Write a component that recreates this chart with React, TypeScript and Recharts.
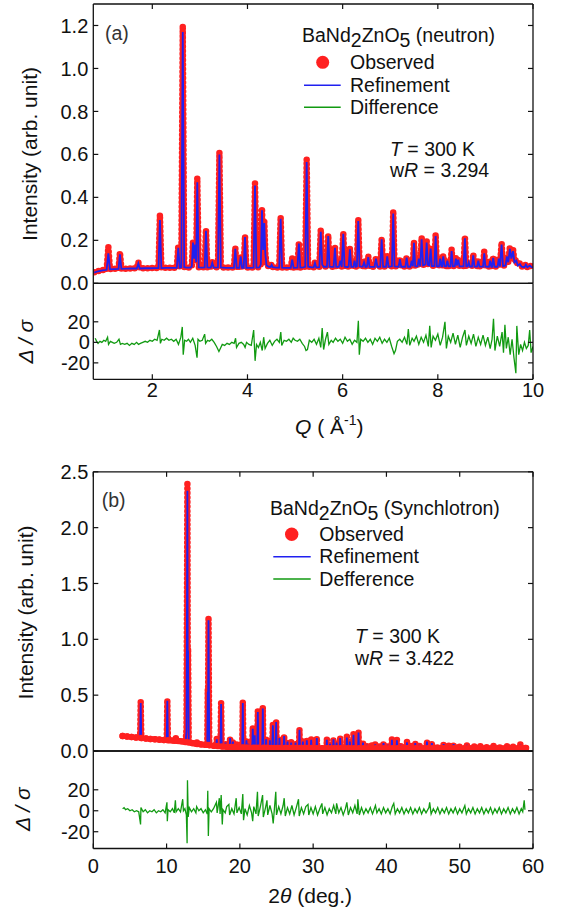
import React from "react";
import { ComposedChart, Line, XAxis, YAxis } from "recharts";

const W = 561;
const H = 919;
const PLOT_LEFT = 93.3;
const PLOT_RIGHT = 533;
const Y_AXIS_W = 60;
const FONT = '"Liberation Sans", Arial, Helvetica, sans-serif';
const INK = "#111";
const RED = "#ff2020";
const BLUE = "#2020f0";
const GREEN = "#119a11";

// (a) neutron, Q (1/A): [Q, observed, refinement]
const NEUTRON_PROFILE: [number, number, number][] = [
  [0.78, 0.052, 0.05], [0.86, 0.057, 0.056], [0.95, 0.061, 0.06], [1.04, 0.064, 0.063],
  [1.076, 0.17, 0.14], [1.11, 0.066, 0.065], [1.2, 0.067, 0.066], [1.29, 0.068, 0.067],
  [1.32, 0.144, 0.135], [1.35, 0.068, 0.067], [1.45, 0.068, 0.068], [1.56, 0.069, 0.069],
  [1.675, 0.07, 0.069], [1.706, 0.098, 0.092], [1.735, 0.07, 0.069], [1.85, 0.07, 0.07],
  [1.96, 0.071, 0.07], [2.06, 0.071, 0.071], [2.13, 0.072, 0.071], [2.16, 0.32, 0.295],
  [2.19, 0.072, 0.071], [2.29, 0.072, 0.072], [2.4, 0.072, 0.072], [2.515, 0.073, 0.072],
  [2.546, 0.175, 0.165], [2.575, 0.074, 0.073], [2.61, 0.076, 0.075], [2.64, 1.2, 1.17],
  [2.67, 0.076, 0.075], [2.72, 0.074, 0.073], [2.8, 0.074, 0.073], [2.83, 0.08, 0.078],
  [2.855, 0.195, 0.19], [2.878, 0.12, 0.115], [2.9, 0.19, 0.18], [2.922, 0.1, 0.098],
  [2.945, 0.49, 0.47], [2.975, 0.075, 0.074], [3.05, 0.074, 0.073], [3.1, 0.075, 0.074],
  [3.128, 0.25, 0.245], [3.156, 0.075, 0.074], [3.23, 0.074, 0.073], [3.26, 0.1, 0.095],
  [3.29, 0.074, 0.073], [3.38, 0.075, 0.074], [3.41, 0.61, 0.6], [3.44, 0.075, 0.074],
  [3.55, 0.073, 0.072], [3.65, 0.073, 0.072], [3.715, 0.073, 0.072], [3.744, 0.166, 0.16],
  [3.773, 0.073, 0.072], [3.828, 0.073, 0.072], [3.857, 0.13, 0.125], [3.886, 0.073, 0.072],
  [3.92, 0.073, 0.072], [3.948, 0.22, 0.215], [3.976, 0.073, 0.072], [4.05, 0.073, 0.072],
  [4.128, 0.074, 0.073], [4.158, 0.465, 0.455], [4.188, 0.074, 0.073], [4.25, 0.075, 0.074],
  [4.28, 0.09, 0.088], [4.305, 0.35, 0.34], [4.33, 0.16, 0.155], [4.353, 0.29, 0.28],
  [4.375, 0.14, 0.135], [4.4, 0.085, 0.083], [4.45, 0.078, 0.077], [4.485, 0.077, 0.076],
  [4.508, 0.09, 0.086], [4.53, 0.076, 0.075], [4.6, 0.074, 0.073], [4.667, 0.074, 0.073],
  [4.697, 0.31, 0.3], [4.727, 0.074, 0.073], [4.8, 0.073, 0.072], [4.91, 0.073, 0.072],
  [4.94, 0.116, 0.11], [4.97, 0.073, 0.072], [5.05, 0.074, 0.073], [5.08, 0.19, 0.185],
  [5.11, 0.074, 0.073], [5.17, 0.075, 0.074], [5.214, 0.078, 0.077], [5.244, 0.577, 0.565],
  [5.274, 0.078, 0.077], [5.35, 0.075, 0.074], [5.39, 0.075, 0.074], [5.418, 0.098, 0.095],
  [5.445, 0.075, 0.074], [5.51, 0.076, 0.075], [5.54, 0.25, 0.24], [5.57, 0.09, 0.088],
  [5.6, 0.078, 0.077], [5.67, 0.078, 0.077], [5.697, 0.225, 0.22], [5.725, 0.078, 0.077],
  [5.78, 0.077, 0.076], [5.81, 0.077, 0.076], [5.838, 0.17, 0.165], [5.865, 0.077, 0.076],
  [5.92, 0.077, 0.076], [5.95, 0.11, 0.105], [5.98, 0.077, 0.076], [6.013, 0.237, 0.23],
  [6.04, 0.078, 0.077], [6.1, 0.077, 0.076], [6.125, 0.078, 0.077], [6.153, 0.163, 0.158],
  [6.18, 0.077, 0.076], [6.225, 0.077, 0.076], [6.25, 0.11, 0.105], [6.275, 0.078, 0.077],
  [6.3, 0.08, 0.079], [6.328, 0.3, 0.29], [6.356, 0.08, 0.079], [6.42, 0.078, 0.077],
  [6.45, 0.1, 0.097], [6.48, 0.077, 0.076], [6.51, 0.078, 0.077], [6.538, 0.127, 0.122],
  [6.565, 0.077, 0.076], [6.67, 0.077, 0.076], [6.7, 0.12, 0.115], [6.73, 0.078, 0.077],
  [6.79, 0.078, 0.077], [6.82, 0.21, 0.205], [6.85, 0.078, 0.077], [6.91, 0.078, 0.077],
  [6.937, 0.13, 0.125], [6.965, 0.078, 0.077], [7.035, 0.08, 0.079], [7.063, 0.338, 0.325],
  [7.09, 0.08, 0.079], [7.175, 0.078, 0.077], [7.204, 0.116, 0.112], [7.23, 0.078, 0.077],
  [7.318, 0.078, 0.077], [7.345, 0.124, 0.12], [7.372, 0.078, 0.077], [7.425, 0.078, 0.077],
  [7.45, 0.11, 0.105], [7.475, 0.08, 0.079], [7.498, 0.194, 0.188], [7.525, 0.08, 0.079],
  [7.575, 0.08, 0.079], [7.6, 0.12, 0.115], [7.63, 0.082, 0.08], [7.66, 0.214, 0.205],
  [7.69, 0.085, 0.083], [7.74, 0.09, 0.088], [7.765, 0.2, 0.19], [7.79, 0.088, 0.086],
  [7.822, 0.085, 0.083], [7.849, 0.17, 0.162], [7.875, 0.082, 0.08], [7.928, 0.082, 0.08],
  [7.954, 0.228, 0.22], [7.98, 0.08, 0.079], [8.025, 0.08, 0.079], [8.05, 0.12, 0.115],
  [8.075, 0.08, 0.079], [8.09, 0.08, 0.079], [8.113, 0.13, 0.125], [8.14, 0.08, 0.079],
  [8.175, 0.08, 0.079], [8.2, 0.11, 0.105], [8.225, 0.08, 0.079], [8.265, 0.08, 0.079],
  [8.29, 0.158, 0.15], [8.315, 0.08, 0.079], [8.355, 0.08, 0.079], [8.38, 0.12, 0.115],
  [8.4, 0.085, 0.083], [8.429, 0.116, 0.11], [8.455, 0.08, 0.079], [8.54, 0.08, 0.079],
  [8.569, 0.217, 0.21], [8.597, 0.08, 0.079], [8.625, 0.08, 0.079], [8.65, 0.1, 0.097],
  [8.675, 0.079, 0.078], [8.718, 0.079, 0.078], [8.744, 0.136, 0.13], [8.77, 0.079, 0.078],
  [8.825, 0.079, 0.078], [8.85, 0.11, 0.105], [8.875, 0.079, 0.078], [8.95, 0.079, 0.078],
  [8.975, 0.147, 0.14], [9.0, 0.079, 0.078], [9.075, 0.078, 0.077], [9.1, 0.11, 0.105],
  [9.125, 0.078, 0.077], [9.14, 0.078, 0.077], [9.164, 0.124, 0.118], [9.19, 0.078, 0.077],
  [9.255, 0.078, 0.077], [9.28, 0.12, 0.115], [9.305, 0.08, 0.079], [9.34, 0.19, 0.18],
  [9.37, 0.082, 0.08], [9.425, 0.085, 0.083], [9.45, 0.13, 0.125], [9.48, 0.1, 0.098],
  [9.515, 0.17, 0.16], [9.545, 0.12, 0.115], [9.58, 0.16, 0.15], [9.61, 0.1, 0.097],
  [9.65, 0.11, 0.105], [9.68, 0.085, 0.083], [9.725, 0.093, 0.09], [9.76, 0.078, 0.077],
  [9.82, 0.076, 0.075], [9.85, 0.09, 0.087], [9.88, 0.076, 0.075], [9.935, 0.085, 0.082],
  [9.97, 0.076, 0.075], [9.995, 0.075, 0.074],
];

// (a) difference / sigma: [Q, value]
const NEUTRON_DIFF: [number, number][] = [
  [0.8, 4], [0.83, 1], [0.86, -1], [0.9, 1], [0.94, 0], [0.98, 2], [1.02, 1], [1.06, 5], [1.08, -2],
  [1.12, 1], [1.16, 0], [1.2, -1], [1.25, 0], [1.3, 3], [1.33, -2], [1.37, -1], [1.42, -2], [1.47, -1],
  [1.52, -3], [1.57, -1], [1.62, -2], [1.67, 0], [1.71, -2], [1.75, -1], [1.8, 0], [1.85, 1], [1.9, 0],
  [1.95, 2], [2.0, 1], [2.05, 3], [2.1, 2], [2.15, 12], [2.17, -1], [2.2, 3], [2.25, 2], [2.3, 4],
  [2.35, 2], [2.4, 3], [2.45, 1], [2.5, 3], [2.55, -2], [2.6, 5], [2.63, 15], [2.65, -12], [2.68, 2],
  [2.72, 1], [2.76, 3], [2.8, 0], [2.85, 4], [2.9, -3], [2.94, -15], [2.96, 3], [3.0, 1], [3.05, 2],
  [3.1, 8], [3.12, -1], [3.16, 2], [3.2, 1], [3.25, 3], [3.3, 0], [3.35, -4], [3.4, -9], [3.43, -6],
  [3.47, -2], [3.52, -3], [3.57, -1], [3.62, -2], [3.67, 0], [3.72, -1], [3.75, 4], [3.77, -5],
  [3.82, -1], [3.87, 0], [3.92, -2], [3.95, -5], [3.98, 0], [4.03, -2], [4.08, -3], [4.13, 12],
  [4.16, -18], [4.19, -2], [4.23, -5], [4.27, 0], [4.31, -8], [4.34, 5], [4.37, -6], [4.42, -1],
  [4.47, 2], [4.52, -3], [4.57, 1], [4.62, 3], [4.67, 0], [4.7, 10], [4.72, -3], [4.77, 2], [4.82, 1],
  [4.87, 3], [4.92, 0], [4.96, 4], [5.0, 2], [5.05, 1], [5.1, 3], [5.15, -1], [5.2, -4], [5.23, -8],
  [5.26, -7], [5.3, 2], [5.35, 0], [5.4, 3], [5.45, -2], [5.5, 4], [5.54, -5], [5.57, 14], [5.6, -7],
  [5.64, 3], [5.68, 10], [5.71, -2], [5.76, 2], [5.8, 0], [5.85, 4], [5.9, 1], [5.95, 3], [6.0, -1],
  [6.05, 5], [6.1, 1], [6.15, 3], [6.2, -2], [6.25, 2], [6.3, 0], [6.33, 21], [6.35, -12], [6.38, 3],
  [6.43, 1], [6.48, 4], [6.53, 0], [6.58, 3], [6.63, -2], [6.68, 4], [6.73, 1], [6.78, 5], [6.83, -1],
  [6.88, 3], [6.93, 0], [6.98, 4], [7.03, -4], [7.08, -11], [7.11, -8], [7.15, 1], [7.2, 3], [7.25, 0],
  [7.3, 5], [7.35, -2], [7.38, 13], [7.41, -3], [7.46, 4], [7.5, 1], [7.55, 6], [7.6, -2], [7.65, 5],
  [7.7, 0], [7.75, 7], [7.8, -4], [7.83, 16], [7.86, -5], [7.9, 6], [7.95, 2], [8.0, 8], [8.05, -3],
  [8.1, 5], [8.15, 20], [8.18, -6], [8.22, 6], [8.27, 0], [8.32, 9], [8.37, -2], [8.42, 7], [8.47, -5],
  [8.52, 5], [8.57, 12], [8.6, -3], [8.65, 6], [8.7, -1], [8.75, 8], [8.8, -4], [8.85, 5], [8.9, -2],
  [8.95, 7], [9.0, -3], [9.05, 5], [9.1, -6], [9.14, 3], [9.17, 23], [9.2, -8], [9.25, 6], [9.3, -4],
  [9.35, 10], [9.38, -10], [9.41, 17], [9.44, -6], [9.48, 5], [9.52, -12], [9.56, 3], [9.6, -15],
  [9.64, -30], [9.66, 16], [9.7, -12], [9.74, -2], [9.78, -8], [9.82, 0], [9.86, -6], [9.9, -3],
  [9.93, 12], [9.96, -10], [10.0, -4],
];

// (b) synchrotron, 2theta (deg): [2theta, observed, refinement]
const SYNC_PROFILE: [number, number, number][] = [
  [4.0, 0.134, 0.132], [5.0, 0.127, 0.125], [6.0, 0.12, 0.118], [6.39, 0.118, 0.116],
  [6.47, 0.44, 0.43], [6.55, 0.117, 0.115], [7.5, 0.11, 0.108], [8.5, 0.104, 0.102],
  [9.5, 0.1, 0.098], [10.02, 0.098, 0.096], [10.1, 0.46, 0.45], [10.18, 0.097, 0.095],
  [10.8, 0.094, 0.092], [11.18, 0.092, 0.09], [11.25, 0.118, 0.114], [11.32, 0.091, 0.089],
  [12.0, 0.086, 0.084], [12.6, 0.08, 0.078], [12.72, 0.2, 0.18], [12.84, 2.39, 2.33],
  [12.89, 0.6, 0.6], [12.93, 0.92, 0.9], [13.02, 0.076, 0.074], [13.6, 0.07, 0.068],
  [14.03, 0.064, 0.062], [14.1, 0.09, 0.086], [14.17, 0.063, 0.061], [15.0, 0.057, 0.055],
  [15.55, 0.055, 0.053], [15.62, 0.55, 0.53], [15.66, 0.4, 0.4], [15.72, 1.2, 1.17],
  [15.82, 0.053, 0.051], [16.4, 0.048, 0.046], [16.78, 0.046, 0.044], [16.85, 0.11, 0.105],
  [16.92, 0.045, 0.043], [17.36, 0.042, 0.04], [17.44, 0.43, 0.42], [17.52, 0.041, 0.039],
  [18.0, 0.038, 0.036], [18.05, 0.08, 0.075], [18.1, 0.038, 0.036], [18.6, 0.036, 0.034],
  [18.67, 0.12, 0.115], [18.74, 0.036, 0.034], [19.0, 0.035, 0.033], [19.05, 0.09, 0.085],
  [19.1, 0.035, 0.033], [19.52, 0.034, 0.032], [19.58, 0.065, 0.06], [19.64, 0.034, 0.032],
  [20.32, 0.032, 0.03], [20.4, 0.44, 0.43], [20.48, 0.032, 0.03], [20.85, 0.031, 0.029],
  [20.9, 0.1, 0.095], [20.95, 0.031, 0.029], [21.12, 0.031, 0.029], [21.17, 0.07, 0.065],
  [21.22, 0.031, 0.029], [21.68, 0.03, 0.028], [21.76, 0.21, 0.2], [21.84, 0.03, 0.028],
  [21.98, 0.03, 0.028], [22.03, 0.15, 0.14], [22.08, 0.029, 0.027], [22.37, 0.029, 0.027],
  [22.45, 0.36, 0.35], [22.53, 0.029, 0.027], [23.05, 0.028, 0.026], [23.13, 0.39, 0.38],
  [23.21, 0.028, 0.026], [23.53, 0.028, 0.026], [23.58, 0.11, 0.105], [23.63, 0.028, 0.026],
  [24.05, 0.027, 0.025], [24.1, 0.1, 0.095], [24.15, 0.027, 0.025], [24.42, 0.027, 0.025],
  [24.5, 0.24, 0.23], [24.58, 0.027, 0.025], [24.87, 0.027, 0.025], [24.95, 0.27, 0.26],
  [25.03, 0.027, 0.025], [25.35, 0.027, 0.025], [25.4, 0.12, 0.115], [25.45, 0.027, 0.025],
  [25.97, 0.026, 0.024], [26.04, 0.14, 0.135], [26.11, 0.026, 0.024], [26.45, 0.026, 0.024],
  [26.5, 0.09, 0.085], [26.55, 0.026, 0.024], [26.95, 0.026, 0.024], [27.0, 0.08, 0.075],
  [27.05, 0.026, 0.024], [27.55, 0.026, 0.024], [27.6, 0.08, 0.075], [27.65, 0.026, 0.024],
  [28.06, 0.026, 0.024], [28.13, 0.196, 0.19], [28.2, 0.026, 0.024], [28.55, 0.026, 0.024],
  [28.6, 0.09, 0.085], [28.65, 0.026, 0.024], [29.09, 0.026, 0.024], [29.14, 0.1, 0.095],
  [29.19, 0.026, 0.024], [29.68, 0.026, 0.024], [29.73, 0.107, 0.1], [29.78, 0.026, 0.024],
  [30.45, 0.025, 0.024], [30.5, 0.12, 0.115], [30.55, 0.025, 0.024], [31.82, 0.025, 0.024],
  [31.87, 0.107, 0.1], [31.92, 0.025, 0.024], [32.25, 0.025, 0.024], [32.3, 0.07, 0.065],
  [32.35, 0.025, 0.024], [32.72, 0.025, 0.024], [32.77, 0.11, 0.105], [32.82, 0.025, 0.024],
  [33.15, 0.025, 0.024], [33.2, 0.08, 0.075], [33.25, 0.025, 0.024], [33.64, 0.025, 0.024],
  [33.69, 0.12, 0.115], [33.74, 0.025, 0.024], [34.55, 0.025, 0.024], [34.6, 0.128, 0.12],
  [34.65, 0.025, 0.024], [34.95, 0.025, 0.024], [35.0, 0.09, 0.085], [35.05, 0.025, 0.024],
  [35.45, 0.025, 0.024], [35.5, 0.15, 0.145], [35.55, 0.025, 0.024], [36.13, 0.025, 0.024],
  [36.19, 0.173, 0.165], [36.25, 0.025, 0.024], [36.75, 0.025, 0.024], [36.8, 0.08, 0.075],
  [36.85, 0.025, 0.024], [37.28, 0.025, 0.024], [37.33, 0.06, 0.056], [37.38, 0.025, 0.024],
  [37.95, 0.025, 0.024], [38.0, 0.05, 0.047], [38.05, 0.025, 0.024], [38.42, 0.025, 0.024],
  [38.47, 0.065, 0.06], [38.52, 0.025, 0.024], [38.95, 0.025, 0.024], [39.0, 0.055, 0.05],
  [39.05, 0.025, 0.024], [39.55, 0.025, 0.024], [39.6, 0.077, 0.072], [39.65, 0.025, 0.024],
  [40.15, 0.025, 0.024], [40.2, 0.06, 0.055], [40.25, 0.025, 0.024], [40.7, 0.025, 0.024],
  [40.75, 0.107, 0.1], [40.8, 0.025, 0.024], [41.38, 0.025, 0.024], [41.43, 0.1, 0.095],
  [41.48, 0.025, 0.024], [41.95, 0.025, 0.024], [42.0, 0.06, 0.055], [42.05, 0.025, 0.024],
  [42.75, 0.025, 0.024], [42.8, 0.083, 0.078], [42.85, 0.025, 0.024], [43.25, 0.025, 0.024],
  [43.3, 0.055, 0.05], [43.35, 0.025, 0.024], [43.88, 0.025, 0.024], [43.93, 0.077, 0.072],
  [43.98, 0.025, 0.024], [44.45, 0.025, 0.024], [44.5, 0.06, 0.055], [44.55, 0.025, 0.024],
  [45.48, 0.025, 0.024], [45.53, 0.09, 0.085], [45.58, 0.025, 0.024], [46.15, 0.025, 0.024],
  [46.2, 0.077, 0.072], [46.25, 0.025, 0.024], [46.95, 0.025, 0.024], [47.0, 0.05, 0.046],
  [47.05, 0.025, 0.024], [47.75, 0.025, 0.024], [47.8, 0.066, 0.062], [47.85, 0.025, 0.024],
  [48.45, 0.025, 0.024], [48.5, 0.05, 0.046], [48.55, 0.025, 0.024], [49.11, 0.025, 0.024],
  [49.16, 0.066, 0.062], [49.21, 0.025, 0.024], [49.95, 0.025, 0.024], [50.0, 0.05, 0.046],
  [50.05, 0.025, 0.024], [50.95, 0.025, 0.024], [51.0, 0.06, 0.056], [51.05, 0.025, 0.024],
  [51.95, 0.025, 0.024], [52.0, 0.05, 0.046], [52.05, 0.025, 0.024], [52.75, 0.025, 0.024],
  [52.8, 0.054, 0.05], [52.85, 0.025, 0.024], [53.65, 0.025, 0.024], [53.7, 0.045, 0.042],
  [53.75, 0.025, 0.024], [54.55, 0.025, 0.024], [54.6, 0.054, 0.05], [54.65, 0.025, 0.024],
  [55.45, 0.025, 0.024], [55.5, 0.045, 0.042], [55.55, 0.025, 0.024], [56.4, 0.025, 0.024],
  [56.45, 0.05, 0.046], [56.5, 0.025, 0.024], [57.25, 0.025, 0.024], [57.3, 0.045, 0.042],
  [57.35, 0.025, 0.024], [58.22, 0.026, 0.025], [58.27, 0.06, 0.056], [58.32, 0.026, 0.025],
  [59.2, 0.026, 0.025],
];

// (b) difference / sigma: [2theta, value]
const SYNC_DIFF: [number, number][] = [
  [4.0, 2], [4.2, 3], [4.4, 1], [4.7, 2], [5.0, 0], [5.3, 1], [5.6, -1], [5.9, 0], [6.2, -1], [6.45, -13],
  [6.5, 3], [6.8, -1], [7.1, 1], [7.4, -2], [7.7, 0], [8.0, -1], [8.3, 1], [8.6, -2], [8.9, 0], [9.2, -1],
  [9.5, 1], [9.8, -2], [10.05, 8], [10.1, -10], [10.2, 1], [10.5, -1], [10.8, 2], [11.05, -2], [11.2, 10],
  [11.3, -1], [11.6, 2], [11.9, -1], [12.2, 11], [12.3, 0], [12.5, 2], [12.7, -4], [12.8, -31], [12.85, 29],
  [12.95, -6], [13.1, 3], [13.4, -1], [13.7, 2], [14.0, -2], [14.1, 4], [14.4, 0], [14.7, 2], [15.0, -2],
  [15.3, 1], [15.55, -3], [15.62, 19], [15.7, -24], [15.8, 2], [16.1, -1], [16.4, 2], [16.8, 8], [16.9, -2],
  [17.2, 12], [17.3, -3], [17.45, 15], [17.6, -13], [17.7, 1], [18.0, -2], [18.2, 4], [18.5, 6], [18.6, -4],
  [18.9, 2], [19.2, -3], [19.5, 12], [19.6, -2], [19.9, 3], [20.2, -3], [20.4, 16], [20.5, -9], [20.7, 2],
  [21.0, -4], [21.3, 5], [21.6, -2], [21.75, -10], [21.9, 4], [22.2, -3], [22.4, 18], [22.5, -5], [22.8, 4],
  [23.1, 15], [23.2, -6], [23.5, 3], [23.7, 10], [23.8, -4], [24.1, 5], [24.4, -3], [24.55, -12], [24.9, 18],
  [25.0, -4], [25.3, 4], [25.6, -3], [25.9, 5], [26.05, 12], [26.2, -5], [26.5, 3], [26.8, -3], [27.1, 5],
  [27.4, -4], [27.7, 3], [28.0, 11], [28.1, -5], [28.4, 3], [28.7, -3], [29.0, 4], [29.3, 6], [29.4, -4],
  [29.7, 3], [30.0, -3], [30.3, 4], [30.6, -4], [30.9, 2], [31.2, 7], [31.3, -3], [31.6, 3], [31.9, -4],
  [32.2, 2], [32.5, -2], [32.8, 5], [33.1, -3], [33.2, 7], [33.5, -2], [33.8, 3], [34.1, -4], [34.4, 2],
  [34.6, 8], [34.8, -4], [35.1, 3], [35.4, -2], [35.7, 5], [36.0, -3], [36.1, 11], [36.3, -4], [36.6, 3],
  [36.9, -3], [37.2, 2], [37.5, -2], [37.8, 3], [38.1, -3], [38.5, 5], [38.7, -2], [39.0, 2], [39.3, -3],
  [39.6, 3], [39.9, -2], [40.2, 2], [40.5, -3], [40.8, 4], [41.0, 7], [41.2, -3], [41.5, 2], [41.8, -2],
  [42.1, 3], [42.4, -3], [42.7, 2], [43.0, -2], [43.3, 3], [43.6, -3], [43.9, 2], [44.2, -2], [44.5, 3],
  [44.8, -3], [45.1, 2], [45.4, -2], [45.8, 3], [45.9, 8], [46.1, -3], [46.4, 2], [46.7, -2], [47.0, 3],
  [47.3, -3], [47.6, 2], [47.9, -2], [48.2, 3], [48.5, -3], [48.8, 2], [49.1, -2], [49.4, 3], [49.7, -3],
  [50.0, 2], [50.3, -2], [50.7, 5], [50.9, -3], [51.2, 2], [51.5, -2], [51.8, 3], [52.1, -3], [52.4, 2],
  [52.7, -2], [53.0, 3], [53.3, -3], [53.6, 2], [53.9, -2], [54.2, 3], [54.5, -3], [54.8, 2], [55.1, -2],
  [55.4, 3], [55.7, -3], [56.0, 2], [56.3, -2], [56.6, 3], [56.9, -3], [57.2, 2], [57.5, -2], [57.8, 3],
  [58.1, -3], [58.4, 2], [58.6, -1], [58.8, 10], [58.9, 1],
];

const Q_TICKS = [2, 4, 6, 8, 10];
const TTH_TICKS = [0, 10, 20, 30, 40, 50, 60];
const INT_TICKS_A = [0, 0.2, 0.4, 0.6, 0.8, 1.0, 1.2];
const INT_TICKS_B = [0, 0.5, 1.0, 1.5, 2.0, 2.5];
const DIFF_TICKS = [-20, 0, 20];

type Row = { x: number; obs?: number; calc?: number; base?: number | null; d?: number };

const neutronRows: Row[] = NEUTRON_PROFILE.map(([x, obs, calc]) => ({ x, obs, calc }));
const neutronDiffRows: Row[] = NEUTRON_DIFF.map(([x, d]) => ({ x, d }));
// baseline-only copy of the observed points, so the red band sits over the blue line
const syncRows: Row[] = SYNC_PROFILE.map(([x, obs, calc], i, all) => {
  const lo = Math.min(all[i - 1]?.[1] ?? obs, all[i + 1]?.[1] ?? obs);
  return { x, obs, calc, base: obs > lo * 1.25 ? null : obs };
});
const syncDiffRows: Row[] = SYNC_DIFF.map(([x, d]) => ({ x, d }));

const NoLabel = () => <g />;
const fmt1 = (v: number) => v.toFixed(1);

type FrameProps = {
  top: number;
  height: number;
  plotTop: number;
  plotBottom: number;
  rows: Row[];
  xDomain: [number, number];
  xTicks: number[];
  yDomain: [number, number];
  yTicks: number[];
  yFormat?: (v: number) => string;
  yGap: number;
  xGap?: number;
  topTicks: boolean;
  children: React.ReactNode;
};

function Frame(p: FrameProps) {
  const axis = { stroke: INK, strokeWidth: 1.3 };
  const tickLine = { stroke: INK, strokeWidth: 1.2 };
  const labelled = p.xGap !== undefined;
  const tickFont = { fontSize: 20, fill: INK, fontFamily: FONT };
  return (
    <div style={{ position: "absolute", left: 0, top: p.top }}>
      <ComposedChart
        width={W}
        height={p.height}
        data={p.rows}
        margin={{
          top: p.plotTop - p.top - 1,
          bottom: p.top + p.height - p.plotBottom - 1,
          left: PLOT_LEFT - Y_AXIS_W,
          right: W - PLOT_RIGHT - 1,
        }}
      >
        <XAxis
          xAxisId="b"
          dataKey="x"
          type="number"
          domain={p.xDomain}
          ticks={p.xTicks}
          interval={0}
          allowDataOverflow
          height={1}
          axisLine={axis}
          tickLine={labelled ? tickLine : false}
          tickSize={-5}
          tickMargin={labelled ? 5 + (p.xGap as number) : 0}
          tick={labelled ? tickFont : NoLabel}
        />
        <XAxis
          xAxisId="t"
          orientation="top"
          dataKey="x"
          type="number"
          domain={p.xDomain}
          ticks={p.xTicks}
          interval={0}
          allowDataOverflow
          height={1}
          axisLine={axis}
          tickLine={p.topTicks ? tickLine : false}
          tickSize={-5}
          tick={NoLabel}
        />
        <YAxis
          yAxisId="l"
          type="number"
          domain={p.yDomain}
          ticks={p.yTicks}
          interval={0}
          allowDataOverflow
          width={Y_AXIS_W}
          axisLine={axis}
          tickLine={tickLine}
          tickSize={-5}
          tickMargin={5 + p.yGap}
          tickFormatter={p.yFormat}
          tick={tickFont}
        />
        <YAxis
          yAxisId="r"
          orientation="right"
          type="number"
          domain={p.yDomain}
          ticks={p.yTicks}
          interval={0}
          allowDataOverflow
          width={1}
          axisLine={axis}
          tickLine={tickLine}
          tickSize={-5}
          tick={NoLabel}
        />
        {p.children}
      </ComposedChart>
    </div>
  );
}

const obsLine = {
  xAxisId: "b",
  yAxisId: "l",
  type: "linear" as const,
  stroke: RED,
  strokeWidth: 6.5,
  strokeDasharray: "0 4.5",
  strokeLinecap: "round" as const,
  strokeLinejoin: "round" as const,
  dot: false,
  activeDot: false,
  isAnimationActive: false,
};

const calcLine = {
  xAxisId: "b",
  yAxisId: "l",
  type: "linear" as const,
  stroke: BLUE,
  strokeWidth: 1.8,
  dot: false,
  activeDot: false,
  isAnimationActive: false,
};

const diffLine = {
  xAxisId: "b",
  yAxisId: "l",
  type: "linear" as const,
  stroke: GREEN,
  strokeWidth: 1.3,
  dot: false,
  activeDot: false,
  isAnimationActive: false,
};

function Labels() {
  return (
    <svg
      width={W}
      height={H}
      style={{ position: "absolute", left: 0, top: 0, pointerEvents: "none", fontFamily: FONT }}
    >
      <g fill={INK} fontSize={19.5}>
        {/* panel (a) */}
        <text x={105} y={39.5} fill="#333">(a)</text>
        <text x={302} y={41.7}>
          BaNd<tspan dy={5}>2</tspan>
          <tspan dy={-5}>ZnO</tspan>
          <tspan dy={5}>5</tspan>
          <tspan dy={-5}> (neutron)</tspan>
        </text>
        <circle cx={322.7} cy={62.3} r={6.5} fill={RED} />
        <text x={350} y={69.3}>Observed</text>
        <line x1={304} x2={340.7} y1={85.3} y2={85.3} stroke={BLUE} strokeWidth={1.5} />
        <text x={350} y={91.7}>Refinement</text>
        <line x1={304} x2={340.7} y1={107.3} y2={107.3} stroke={GREEN} strokeWidth={1.5} />
        <text x={350} y={114.3}>Difference</text>
        <text x={390} y={156}>
          <tspan fontStyle="italic">T</tspan> = 300 K
        </text>
        <text x={390} y={177.3}>
          w<tspan fontStyle="italic">R</tspan> = 3.294
        </text>

        {/* panel (b) */}
        <text x={101.7} y={506.5} fill="#333">(b)</text>
        <text x={270} y={515}>
          BaNd<tspan dy={5}>2</tspan>
          <tspan dy={-5}>ZnO</tspan>
          <tspan dy={5}>5</tspan>
          <tspan dy={-5}> (Synchlotron)</tspan>
        </text>
        <circle cx={291.7} cy={534.3} r={6.7} fill={RED} />
        <text x={319.3} y={541}>Observed</text>
        <line x1={273.3} x2={310.7} y1={556.7} y2={556.7} stroke={BLUE} strokeWidth={1.5} />
        <text x={319.3} y={563.3}>Refinement</text>
        <line x1={273.3} x2={310.7} y1={579} y2={579} stroke={GREEN} strokeWidth={1.5} />
        <text x={319.3} y={585.7}>Defference</text>
        <text x={355} y={643.3}>
          <tspan fontStyle="italic">T</tspan> = 300 K
        </text>
        <text x={355} y={665}>
          w<tspan fontStyle="italic">R</tspan> = 3.422
        </text>
      </g>

      <g fill={INK} fontSize={21}>
        <text transform="translate(37.3,154) rotate(-90)" textAnchor="middle">
          Intensity (arb. unit)
        </text>
        <text transform="translate(33.3,341.7) rotate(-90)" textAnchor="middle" fontStyle="italic">
          Δ / σ
        </text>
        <text x={295} y={434}>
          <tspan fontStyle="italic">Q</tspan> ( Å
          <tspan dy={-9} fontSize={14}>-1</tspan>
          <tspan dy={9}>)</tspan>
        </text>

        <text transform="translate(32.9,612.5) rotate(-90)" textAnchor="middle">
          Intensity (arb. unit)
        </text>
        <text transform="translate(30,809.2) rotate(-90)" textAnchor="middle" fontStyle="italic">
          Δ / σ
        </text>
        <text x={268.3} y={903.3}>
          2<tspan fontStyle="italic">θ</tspan> (deg.)
        </text>
      </g>
    </svg>
  );
}

export default function App() {
  return (
    <div
      style={{
        position: "absolute",
        left: 0,
        top: 0,
        width: W,
        height: H,
        background: "#fff",
        fontFamily: FONT,
        overflow: "hidden",
      }}
    >
      <Frame
        top={0}
        height={300}
        plotTop={4}
        plotBottom={283.3}
        rows={neutronRows}
        xDomain={[0.76, 10]}
        xTicks={Q_TICKS}
        yDomain={[0, 1.3]}
        yTicks={INT_TICKS_A}
        yFormat={fmt1}
        yGap={5}
        topTicks
      >
        <Line {...obsLine} dataKey="obs" />
        <Line {...calcLine} dataKey="calc" />
      </Frame>
      <Frame
        top={270}
        height={170}
        plotTop={283.3}
        plotBottom={379.3}
        rows={neutronDiffRows}
        xDomain={[0.76, 10]}
        xTicks={Q_TICKS}
        yDomain={[-36, 57.5]}
        yTicks={DIFF_TICKS}
        yGap={3.5}
        xGap={3.4}
        topTicks={false}
      >
        <Line {...diffLine} dataKey="d" />
      </Frame>
      <Frame
        top={455}
        height={320}
        plotTop={471.8}
        plotBottom={751}
        rows={syncRows}
        xDomain={[0, 60]}
        xTicks={TTH_TICKS}
        yDomain={[0, 2.5]}
        yTicks={INT_TICKS_B}
        yFormat={fmt1}
        yGap={5}
        topTicks
      >
        <Line {...obsLine} dataKey="obs" />
        <Line {...calcLine} dataKey="calc" />
        <Line {...obsLine} dataKey="base" connectNulls={false} />
      </Frame>
      <Frame
        top={740}
        height={179}
        plotTop={751}
        plotBottom={848.5}
        rows={syncDiffRows}
        xDomain={[0, 60]}
        xTicks={TTH_TICKS}
        yDomain={[-36, 57]}
        yTicks={DIFF_TICKS}
        yGap={3.5}
        xGap={10}
        topTicks={false}
      >
        <Line {...diffLine} dataKey="d" />
      </Frame>
      <Labels />
    </div>
  );
}
